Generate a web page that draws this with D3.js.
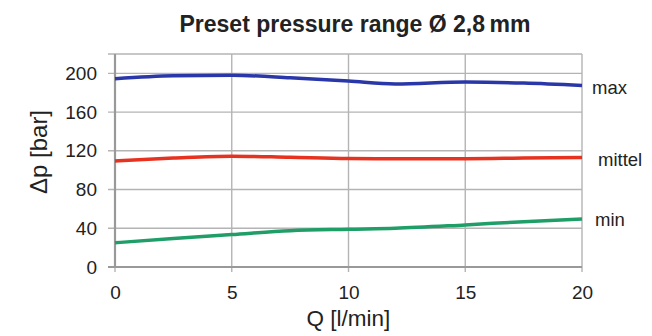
<!DOCTYPE html>
<html>
<head>
<meta charset="utf-8">
<script src="https://cdn.jsdelivr.net/npm/d3@7"></script>
<style>
  body { margin: 0; background: #fff; }
  text { font-family: "Liberation Sans", Arial, sans-serif; fill: #222; }
</style>
</head>
<body>
<svg id="chart" width="652" height="336"></svg>
<script>
// data
const qValues = [0, 2.5, 5, 7.5, 10, 12, 15, 17.5, 20];
const maxValues = [194.5, 197.5, 198, 195.5, 192, 189, 191, 190, 187.5];
const mittelValues = [109.5, 112.5, 114.5, 113.3, 112, 111.8, 111.8, 112.5, 113.2];
const minValues = [25, 29.5, 33.5, 37.5, 39, 40, 43.5, 46.8, 49.6];
const xTicks = [0, 5, 10, 15, 20];
const yTicks = [0, 40, 80, 120, 160, 200];

const series = [
    { name: 'max', values: maxValues, color: '#2a37a8', labelDx: 10, labelDy: 2 },
    { name: 'mittel', values: mittelValues, color: '#e6321f', labelDx: 16, labelDy: 2 },
    { name: 'min', values: minValues, color: '#1f9e68', labelDx: 13, labelDy: 1 }
];

const svg = d3.select('#chart');
const margin = { left: 115, right: 70, top: 54, bottom: 69 };
const width = 652 - margin.left - margin.right;
const height = 336 - margin.top - margin.bottom;

const x = d3.scaleLinear().domain([0, 20]).range([0, width]);
const y = d3.scaleLinear().domain([0, 220]).range([height, 0]);

const g = svg.append('g').attr('transform', `translate(${margin.left},${margin.top})`);

// gitter
g.append('g')
    .selectAll('line')
    .data(yTicks.concat([220]))
    .join('line')
    .attr('x1', -7)
    .attr('x2', width)
    .attr('y1', d => y(d))
    .attr('y2', d => y(d))
    .attr('stroke', '#b4b4b4')
    .attr('stroke-width', 1.4);

g.append('g')
    .selectAll('line')
    .data(xTicks)
    .join('line')
    .attr('x1', d => x(d))
    .attr('x2', d => x(d))
    .attr('y1', 0)
    .attr('y2', height + 5)
    .attr('stroke', '#b4b4b4')
    .attr('stroke-width', 1.4);

// achsen
g.append('line')
    .attr('x1', 0).attr('x2', 0)
    .attr('y1', 0).attr('y2', height)
    .attr('stroke', '#999').attr('stroke-width', 2.2);
g.append('line')
    .attr('x1', -7).attr('x2', width)
    .attr('y1', height).attr('y2', height)
    .attr('stroke', '#999').attr('stroke-width', 2.2);

const yAxis = g.append('g')
    .call(d3.axisLeft(y).tickValues(yTicks).tickSize(0).tickPadding(18));
yAxis.select('.domain').remove();
yAxis.selectAll('text')
    .style('font-size', '19px')
    .style('font-family', '"Liberation Sans", Arial, sans-serif')
    .attr('fill', '#222');

const xAxis = g.append('g')
    .attr('transform', `translate(0,${height})`)
    .call(d3.axisBottom(x).tickValues(xTicks).tickSize(0).tickPadding(19));
xAxis.select('.domain').remove();
xAxis.selectAll('text')
    .style('font-size', '19px')
    .style('font-family', '"Liberation Sans", Arial, sans-serif')
    .attr('fill', '#222');

// kurven
const line = d3.line()
    .x((d, i) => x(qValues[i]))
    .y(d => y(d))
    .curve(d3.curveMonotoneX);

series.forEach(s => {
    g.append('path')
        .datum(s.values)
        .attr('fill', 'none')
        .attr('stroke', s.color)
        .attr('stroke-width', 3.5)
        .attr('d', line);

    g.append('text')
        .attr('x', width + s.labelDx)
        .attr('y', y(s.values[s.values.length - 1]) + s.labelDy)
        .attr('dy', '0.35em')
        .style('font-size', '18.5px')
        .text(s.name);
});

// beschriftung
svg.append('text')
    .attr('x', 355)
    .attr('y', 32)
    .attr('text-anchor', 'middle')
    .style('font-size', '23px')
    .style('font-weight', 'bold')
    .text('Preset pressure range Ø 2,8\u2009mm');

svg.append('text')
    .attr('x', margin.left + x(10))
    .attr('y', 326)
    .attr('text-anchor', 'middle')
    .style('font-size', '22.5px')
    .text('Q [l/min]');

svg.append('text')
    .attr('transform', 'translate(47,152) rotate(-90)')
    .attr('text-anchor', 'middle')
    .style('font-size', '24px')
    .text('Δp [bar]');
</script>
</body>
</html>
